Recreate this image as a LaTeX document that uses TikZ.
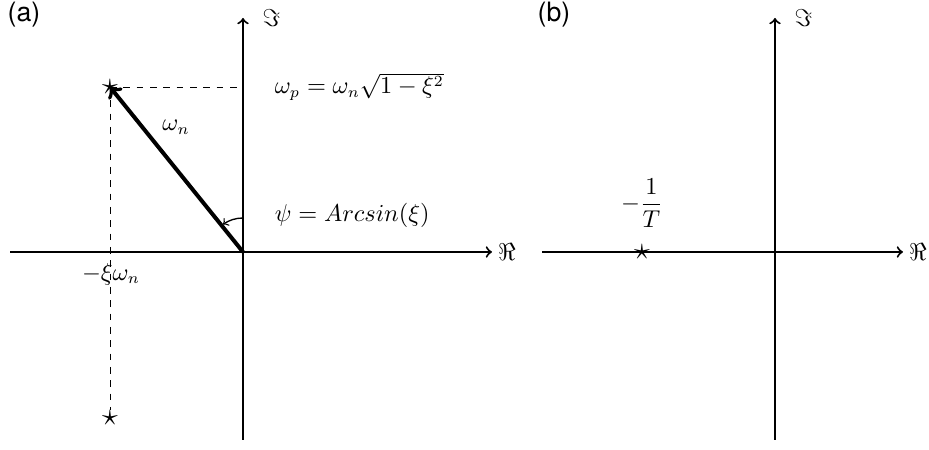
\documentclass[tikz,border=0pt]{standalone}
\usepackage{amsmath,amssymb}
\usepackage{fontspec}
\newfontfamily\panelfont{TeX Gyre Heros}
\usetikzlibrary{arrows,positioning}

\begin{document}
\begin{tikzpicture}[x=0.45pt, y=0.45pt, >=to,
    every node/.append style={font=\fontsize{10.5}{13}\selectfont},
    axis/.style={->, line width=0.9pt},
    guide/.style={dashed, thin},
    pole/.style={inner sep=0pt, font=\Large},
    tag/.style={font=\fontsize{12}{14}\selectfont\panelfont}]
  \useasboundingbox (0,0) rectangle (929,450);

  % (a) complex pair
  \node [tag] (tagA) at (24,435) {(a)};
  \coordinate (oa) at (243,198);
  \coordinate (xaL) at (10,198);
  \coordinate (xaR) at (492,198);
  \coordinate (yaB) at (243,10);
  \coordinate (yaT) at (243,432);
  \draw [axis] (xaL) -- (xaR) node[right=-1pt] (reA) {$\Re$};
  \draw [axis] (yaB) -- (yaT) node[right=5pt] (imA) {$\Im$};
  \node [pole] (pup) at (110,363) {$\star$};
  \node [pole] (pdn) at (110,32) {$\star$};
  \coordinate (pim) at (243,363);
  \draw [guide] (pup.center) -- (pim);
  \draw [guide] (pup.center) -- (pdn);
  \draw [->, line width=1.8pt] (oa) -- (pup.center);
  \node (wn) at (176,323) {$\omega_n$};
  \node [right] (wp) at (267,363) {$\omega_p=\omega_n\sqrt{1-\xi^2}$};
  \node [right] (psi) at (267,235) {$\psi=Arcsin(\xi)$};
  \node (re) at (111,176) {$-\xi\omega_n$};
  \draw [->, semithick] (oa) ++(90:34) arc (90:126:34);

  % (b) real pole
  \node [tag] (tagB) at (554,435) {(b)};
  \coordinate (ob) at (775,198);
  \coordinate (xbL) at (542,198);
  \coordinate (xbR) at (903,198);
  \coordinate (ybB) at (775,10);
  \coordinate (ybT) at (775,432);
  \draw [axis] (xbL) -- (xbR) node[right=-1pt] (reB) {$\Re$};
  \draw [axis] (ybB) -- (ybT) node[right=5pt] (imB) {$\Im$};
  \node [pole] (preal) at (642,198) {$\star$};
  \node [above=4pt of preal] (tb) {$-\dfrac{1}{T}$};
\end{tikzpicture}
\end{document}
